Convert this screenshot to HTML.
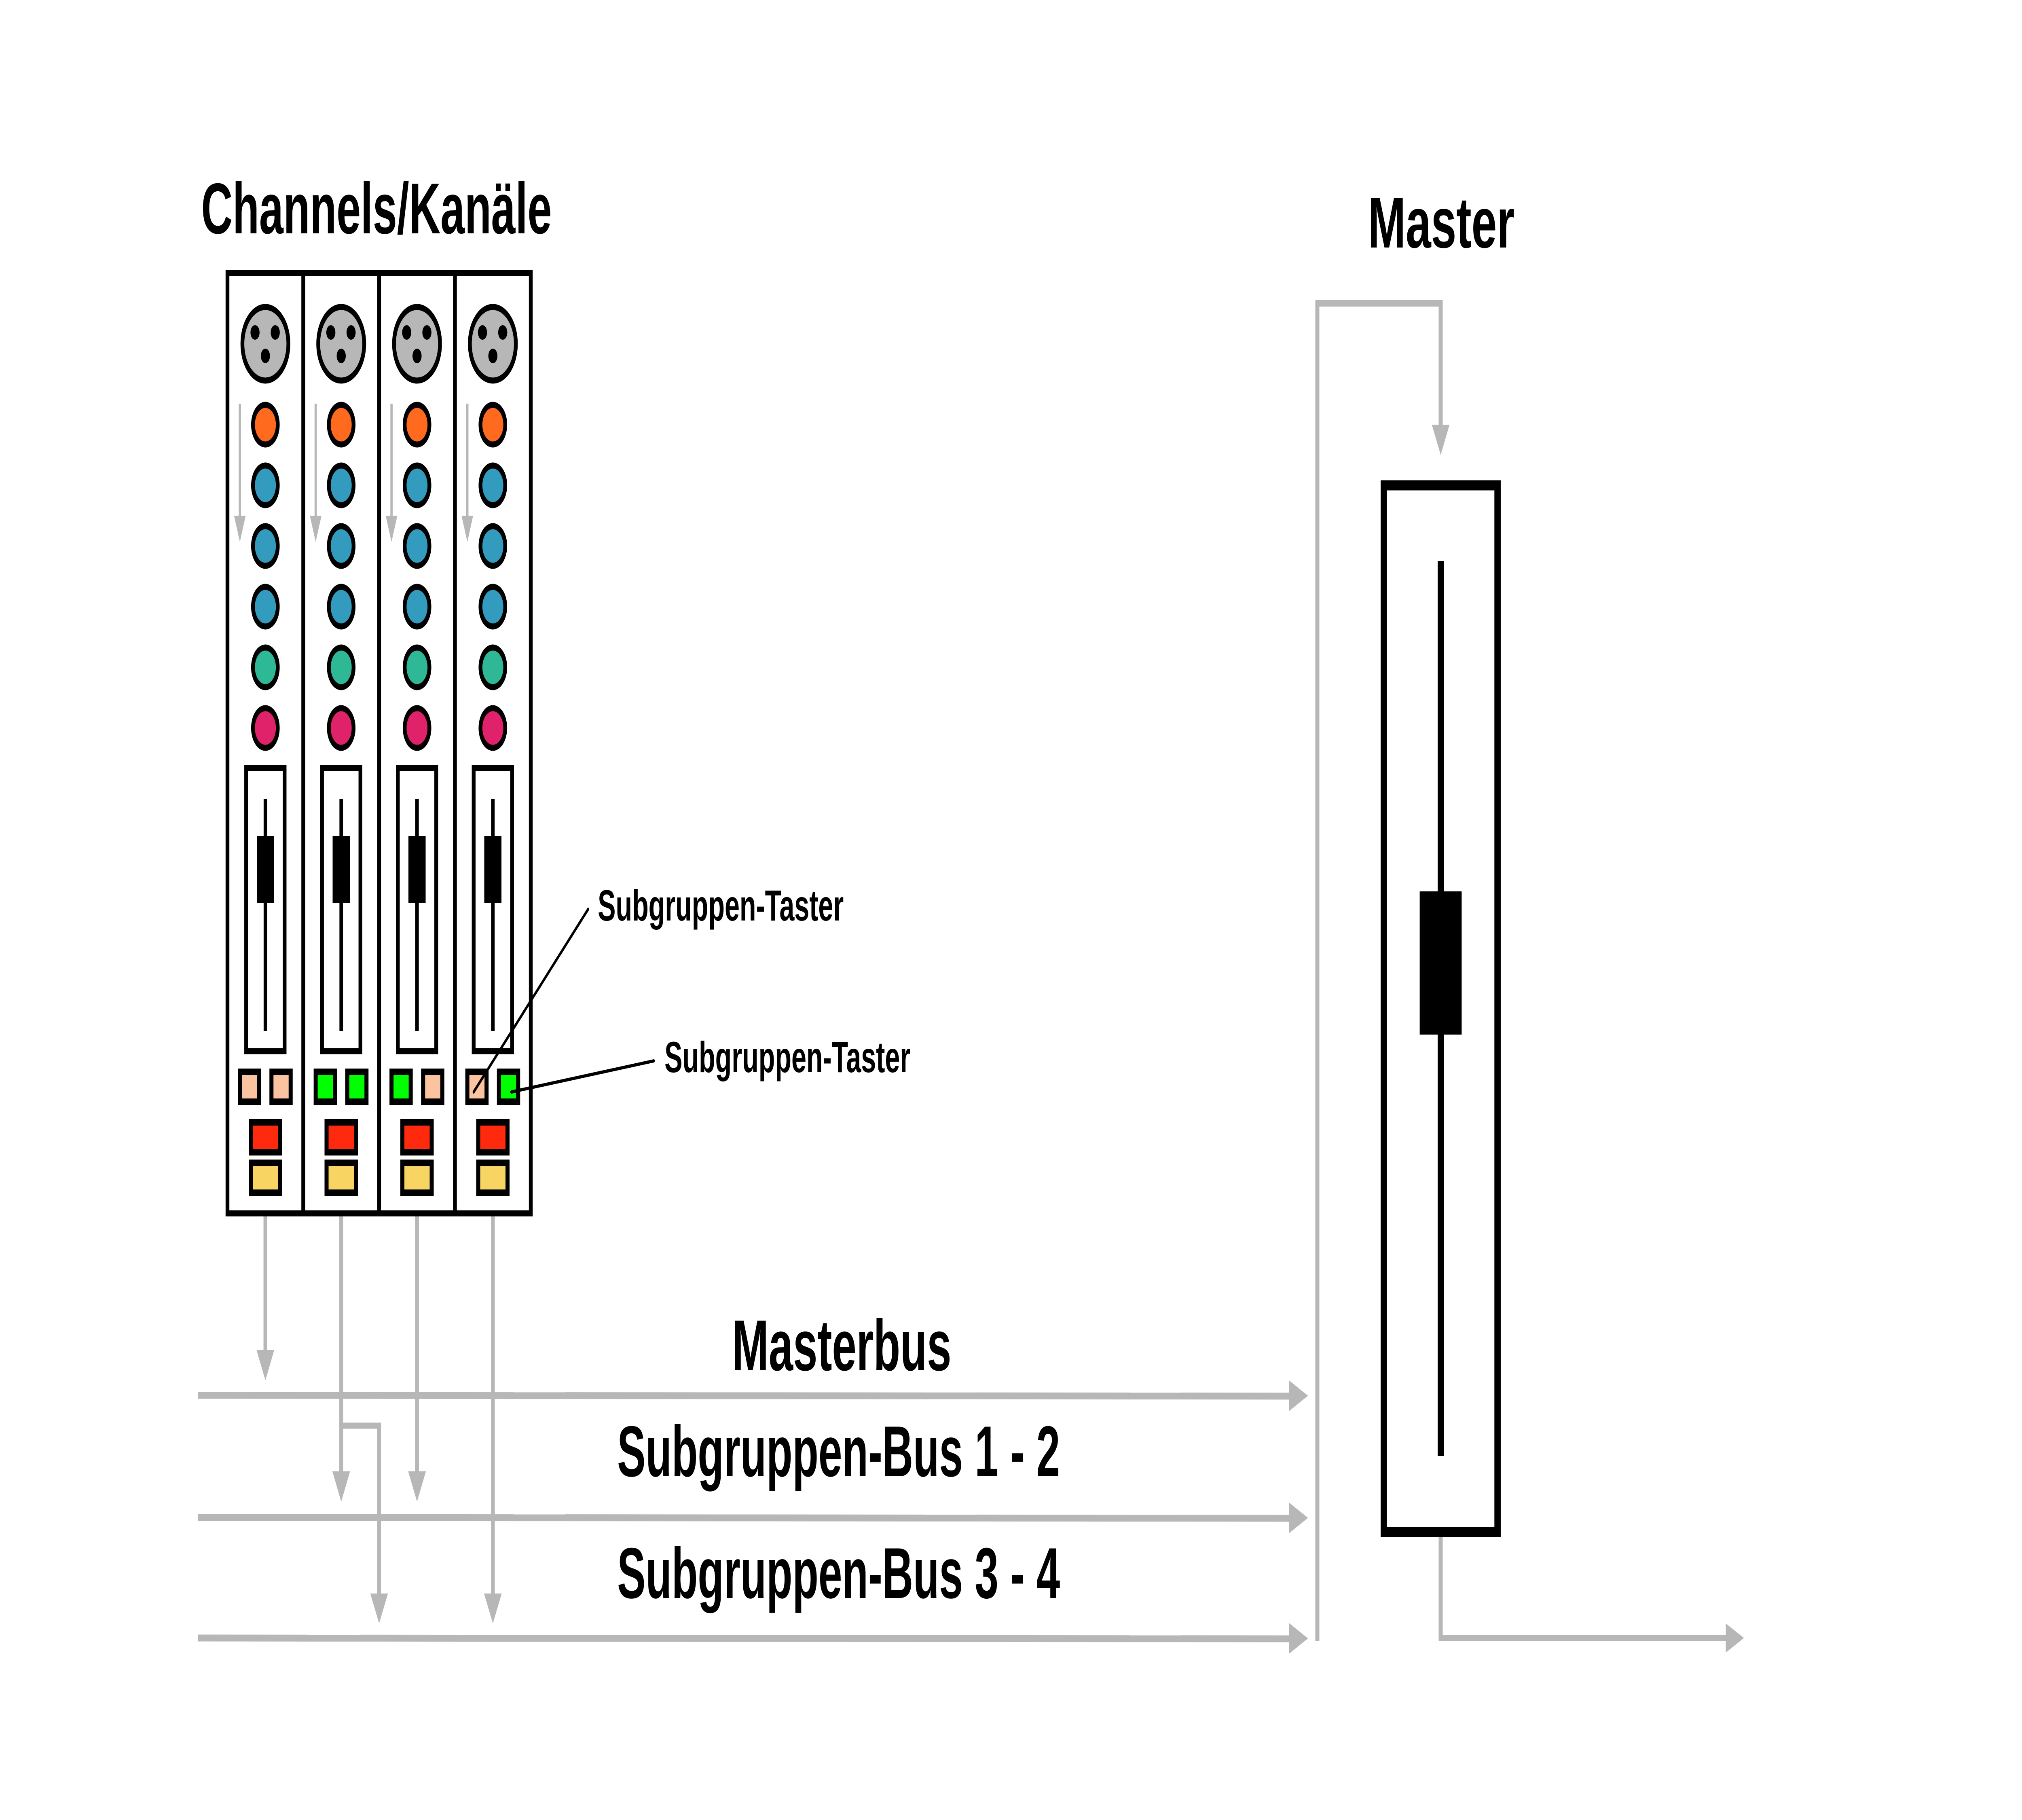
<!DOCTYPE html>
<html><head><meta charset="utf-8"><style>html,body{margin:0;padding:0;background:#fff;overflow:hidden;width:100vw;height:100vh}svg{display:block;width:100vw;height:100vh}</style></head>
<body>
<svg xmlns="http://www.w3.org/2000/svg" viewBox="0 0 8000 4500" preserveAspectRatio="none">
<defs>
<g id="strip">
  <rect x="900" y="675" width="300" height="2325" fill="#fff" stroke="#000" stroke-width="15"/>
  <circle cx="1050" cy="850" r="91" fill="#b7b7b7" stroke="#000" stroke-width="15"/>
  <circle cx="1009" cy="822" r="18" fill="#000"/>
  <circle cx="1089" cy="822" r="18" fill="#000"/>
  <circle cx="1050" cy="880" r="18" fill="#000"/>
  <line x1="949" y1="998" x2="949" y2="1280" stroke="#b7b7b7" stroke-width="9"/>
  <polygon points="926,1275 972,1275 949,1340" fill="#b7b7b7"/>
  <circle cx="1050" cy="1050" r="49" fill="#ff6a1f" stroke="#000" stroke-width="15"/>
  <circle cx="1050" cy="1200" r="49" fill="#339bbd" stroke="#000" stroke-width="15"/>
  <circle cx="1050" cy="1350" r="49" fill="#339bbd" stroke="#000" stroke-width="15"/>
  <circle cx="1050" cy="1500" r="49" fill="#339bbd" stroke="#000" stroke-width="15"/>
  <circle cx="1050" cy="1650" r="49" fill="#2eb896" stroke="#000" stroke-width="15"/>
  <circle cx="1050" cy="1800" r="49" fill="#e0226a" stroke="#000" stroke-width="15"/>
  <rect x="974" y="1899" width="152" height="700" fill="#fff" stroke="#000" stroke-width="15"/>
  <rect x="1043" y="1975" width="14" height="574" fill="#000"/>
  <rect x="1016" y="2067" width="68" height="166" fill="#000"/>
  <rect x="992" y="2775" width="116" height="74" fill="#ff2a0e" stroke="#000" stroke-width="16"/>
  <rect x="992" y="2875" width="116" height="74" fill="#f8d563" stroke="#000" stroke-width="16"/>
</g>
</defs>

<g stroke="#b7b7b7" fill="none">
  <line x1="783" y1="3450" x2="5110" y2="3452" stroke-width="17"/>
  <line x1="783" y1="3752" x2="5110" y2="3754" stroke-width="17"/>
  <line x1="783" y1="4050" x2="5110" y2="4052" stroke-width="17"/>
  <line x1="1050" y1="3000" x2="1050" y2="3345" stroke-width="15"/>
  <line x1="1350" y1="3000" x2="1350" y2="3645" stroke-width="15"/>
  <line x1="1650" y1="3000" x2="1650" y2="3645" stroke-width="15"/>
  <line x1="1950" y1="3000" x2="1950" y2="3945" stroke-width="15"/>
  <polyline points="1350,3525 1500,3525 1500,3945" stroke-width="15"/>
  <polyline points="5212,4057 5212,750 5700,750 5700,1055" stroke-width="16"/>
  <polyline points="5700,3800 5700,4050 6835,4050" stroke-width="16"/>
</g>
<g fill="#b7b7b7">
  <polygon points="1015,3338 1085,3338 1050,3413"/>
  <polygon points="1315,3638 1385,3638 1350,3713"/>
  <polygon points="1615,3638 1685,3638 1650,3713"/>
  <polygon points="1465,3940 1535,3940 1500,4014"/>
  <polygon points="1915,3940 1985,3940 1950,4014"/>
  <polygon points="5100,3413 5100,3489 5175,3451"/>
  <polygon points="5100,3715 5100,3791 5175,3753"/>
  <polygon points="5100,4013 5100,4089 5175,4051"/>
  <polygon points="5665,1050 5735,1050 5700,1125"/>
  <polygon points="6828,4014 6828,4086 6900,4050"/>
</g>

<use href="#strip"/>
<use href="#strip" transform="translate(300,0)"/>
<use href="#strip" transform="translate(600,0)"/>
<use href="#strip" transform="translate(900,0)"/>

<g stroke="#000" stroke-width="16">
  <rect x="949" y="2650" width="76" height="74" fill="#fbc3a0"/>
  <rect x="1074" y="2650" width="76" height="74" fill="#fbc3a0"/>
  <rect x="1249" y="2650" width="76" height="74" fill="#00ff00"/>
  <rect x="1374" y="2650" width="76" height="74" fill="#00ff00"/>
  <rect x="1549" y="2650" width="76" height="74" fill="#00ff00"/>
  <rect x="1674" y="2650" width="76" height="74" fill="#fbc3a0"/>
  <rect x="1849" y="2650" width="76" height="74" fill="#fbc3a0"/>
  <rect x="1974" y="2650" width="76" height="74" fill="#00ff00"/>
</g>

<rect x="5475" y="1200" width="450" height="2588" fill="#fff" stroke="#000" stroke-width="25"/>
<rect x="5688" y="1387" width="24" height="2213" fill="#000"/>
<rect x="5617" y="2204" width="166" height="354" fill="#000"/>

<line x1="1874" y1="2700" x2="2327" y2="2248" stroke="#000" stroke-width="8" stroke-linecap="round"/>
<line x1="2023" y1="2700" x2="2587" y2="2623" stroke="#000" stroke-width="8" stroke-linecap="round"/>

<g font-family="Liberation Sans, sans-serif" font-weight="bold" fill="#000">
  <text x="796" y="577" font-size="178" textLength="1387" lengthAdjust="spacingAndGlyphs">Channels/Kanäle</text>
  <text x="5412" y="612" font-size="178" textLength="580" lengthAdjust="spacingAndGlyphs">Master</text>
  <text x="2897" y="3388" font-size="178" textLength="867" lengthAdjust="spacingAndGlyphs">Masterbus</text>
  <text x="2442" y="3650" font-size="178" textLength="1752" lengthAdjust="spacingAndGlyphs">Subgruppen-Bus 1 - 2</text>
  <text x="2442" y="3951" font-size="178" textLength="1752" lengthAdjust="spacingAndGlyphs">Subgruppen-Bus 3 - 4</text>
  <text x="2365" y="2276" font-size="108" textLength="973" lengthAdjust="spacingAndGlyphs">Subgruppen-Taster</text>
  <text x="2629" y="2651" font-size="108" textLength="973" lengthAdjust="spacingAndGlyphs">Subgruppen-Taster</text>
</g>
</svg>
</body></html>
